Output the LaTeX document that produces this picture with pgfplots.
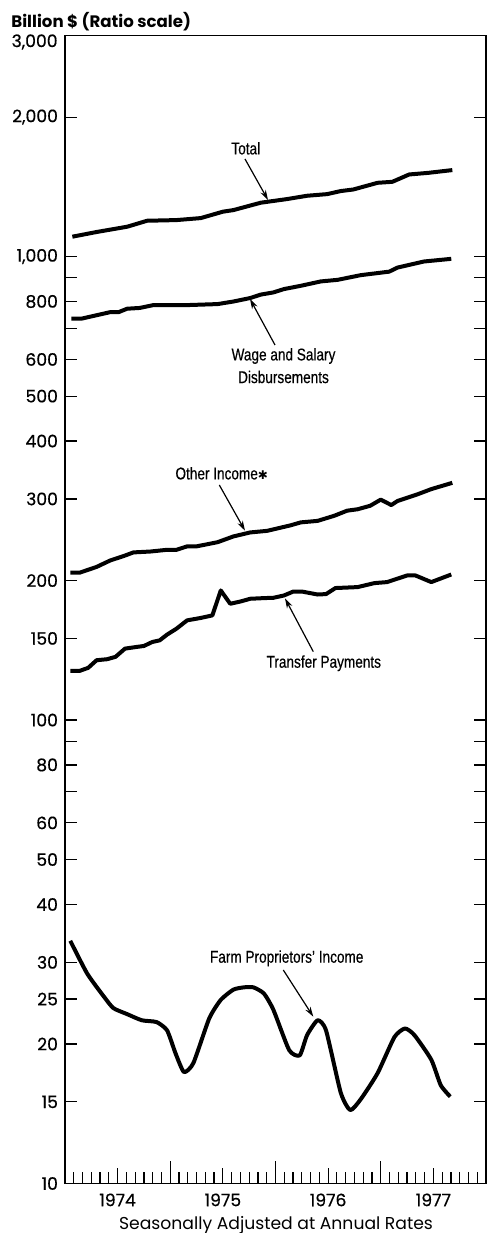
\documentclass[border=0pt]{standalone}
\usepackage{pgfplots}
\pgfplotsset{compat=1.18}
\usepackage{pgfplotstable}
\usetikzlibrary{arrows.meta}
\usepackage{fontspec}
\setmainfont{Poppins}
\newfontfamily\tickfont[FakeBold=0.5]{Poppins}
\newfontfamily\cond[FakeStretch=0.8,FakeBold=0.4]{Liberation Sans}
\newfontfamily\dejavu{DejaVu Sans}

\pgfplotstableread{
x y
1974.07 1104
1974.30 1130
1974.59 1160
1974.78 1195
1975.06 1199
1975.29 1211
1975.50 1250
1975.60 1260
1975.86 1307
1976.11 1331
1976.30 1353
1976.49 1364
1976.62 1385
1976.74 1396
1976.97 1443
1977.11 1450
1977.27 1504
1977.45 1516
1977.68 1537
}\total

\pgfplotstableread{
x y
1974.06 735
1974.16 735
1974.43 759
1974.51 759
1974.59 772
1974.71 775
1974.84 786
1975.16 786
1975.45 790
1975.60 800
1975.76 814
1975.86 828
1975.98 837
1976.08 851
1976.24 865
1976.43 884
1976.59 891
1976.81 912
1977.08 928
1977.16 947
1977.41 976
1977.67 989
}\wage

\pgfplotstableread{
x y
1974.05 208
1974.14 208
1974.30 214
1974.43 221
1974.56 226
1974.65 230
1974.81 231
1974.97 233
1975.06 233
1975.16 237
1975.25 237
1975.45 242
1975.60 249
1975.76 254
1975.92 256
1976.14 263
1976.24 267
1976.40 269
1976.56 276
1976.68 283
1976.78 285
1976.90 290
1977.00 299
1977.10 291
1977.16 297
1977.35 307
1977.48 315
1977.68 325
}\other

\pgfplotstableread{
x y
1974.05 127.7
1974.14 127.7
1974.22 129.6
1974.30 134.6
1974.40 135.3
1974.48 136.9
1974.57 142.6
1974.68 143.8
1974.75 144.5
1974.83 147.4
1974.90 148.6
1974.97 152.9
1975.06 157.5
1975.16 164.1
1975.29 166.1
1975.40 168.2
1975.48 190.4
1975.57 178.2
1975.67 180.3
1975.76 182.7
1975.89 183.3
1975.98 183.6
1976.08 185.7
1976.17 189.4
1976.25 189.4
1976.40 186.6
1976.48 187.0
1976.57 192.7
1976.78 193.6
1976.94 197.5
1977.06 198.5
1977.25 205.1
1977.33 205.1
1977.48 198.5
1977.67 206.1
}\transfer

\pgfplotstableread{
x y
1974.05 33.4
1974.21 28.4
1974.37 25.3
1974.46 23.9
1974.59 23.2
1974.73 22.5
1974.87 22.3
1974.97 21.4
1975.05 19.1
1975.13 17.4
1975.22 18.2
1975.37 22.7
1975.48 24.9
1975.60 26.2
1975.70 26.5
1975.79 26.5
1975.89 25.7
1975.98 23.7
1976.13 19.4
1976.23 18.9
1976.30 20.9
1976.40 22.5
1976.48 21.4
1976.62 15.7
1976.71 14.4
1976.81 15.2
1976.97 17.3
1977.13 20.7
1977.23 21.6
1977.32 20.9
1977.48 18.5
1977.57 16.3
1977.66 15.4
}\farm

\begin{document}
\begin{tikzpicture}
\path[use as bounding box] (0,0) rectangle (244pt,616.5pt);
\begin{axis}[
  at={(32.5pt,24.75pt)}, anchor=south west,
  scale only axis, width=210.5pt, height=574pt,
  ymode=log, ymin=10, ymax=3000, xmin=1974, xmax=1978,
  clip=false,
  axis line style={line width=0.7pt},
  tick style={line width=0.6pt, black},
  tick align=inside,
  major tick length=6pt,
  ytick={10,15,20,25,30,40,50,60,70,80,90,100,150,200,300,400,500,600,700,800,900,1000,2000,3000},
  yticklabels={10,15,20,25,30,40,50,60,,80,,100,150,200,300,400,500,600,,800,,{1,000},{2,000},},
  ytick pos=both, yticklabel pos=left,
  minor ytick={},
  xtick={1974.5,1975.5,1976.5,1977.5},
  xticklabels={1974,1975,1976,1977},
  major x tick style={draw=none},
  xticklabel style={yshift=-1.5pt},
  tick label style={font=\tickfont\fontsize{8.6}{9}\selectfont},
  every axis plot/.append style={line width=2pt, black, line join=round},
]
\addplot[no marks] table[x=x,y=y] {\total};
\addplot[no marks] table[x=x,y=y] {\wage};
\addplot[no marks] table[x=x,y=y] {\other};
\addplot[no marks] table[x=x,y=y] {\transfer};
\addplot[no marks, smooth, tension=0.35] table[x=x,y=y] {\farm};
\pgfplotsinvokeforeach{1,...,47}{
  \draw[line width=0.6pt] (rel axis cs:{#1/48},0) -- ++(0pt,5.5pt);
}
\pgfplotsinvokeforeach{6,18,30,42}{
  \draw[line width=0.6pt] (rel axis cs:{#1/48},0) -- ++(0pt,7.5pt);
}
\pgfplotsinvokeforeach{12,24,36}{
  \draw[line width=0.6pt] (rel axis cs:{#1/48},0) -- ++(0pt,11pt);
}
\end{axis}
\begin{scope}[x=0.5pt,y=-0.5pt,shift={(0pt,616.5pt)}]
\node[anchor=west, font=\bfseries\fontsize{8.3}{9}\selectfont, inner sep=0pt] at (11,22) {Billion \$ (Ratio scale)};
\node[anchor=east, font=\tickfont\fontsize{8.6}{9}\selectfont, inner sep=0pt] at (58,42) {3,000};
\node[font=\fontsize{8.6}{9}\selectfont, inner sep=0pt] at (276,1225) {Seasonally Adjusted at Annual Rates};
\begin{scope}[every node/.style={font=\cond\fontsize{8.5}{10}\selectfont, inner sep=0pt},
  arr/.style={line width=0.6pt, -{Stealth[length=5pt,width=3pt]}}]
\node at (245.8,148.3) {Total};
\draw[arr] (245,159) -- (268,200);
\node at (283.5,356) {Wage and Salary};
\node at (283.5,377) {Disbursements};
\draw[arr] (275,345) -- (250,299);
\node at (221.7,473.3) {Other Income{\dejavu\fontsize{6}{6}\selectfont ✱}};
\draw[arr] (219.3,485) -- (245,530.7);
\node at (323.8,663.3) {Transfer Payments};
\draw[arr] (313.3,651.7) -- (285,598.3);
\node at (286.7,958.3) {Farm Proprietors’ Income};
\draw[arr] (283.3,970) -- (313.3,1016.7);
\end{scope}
\end{scope}
\end{tikzpicture}
\end{document}
